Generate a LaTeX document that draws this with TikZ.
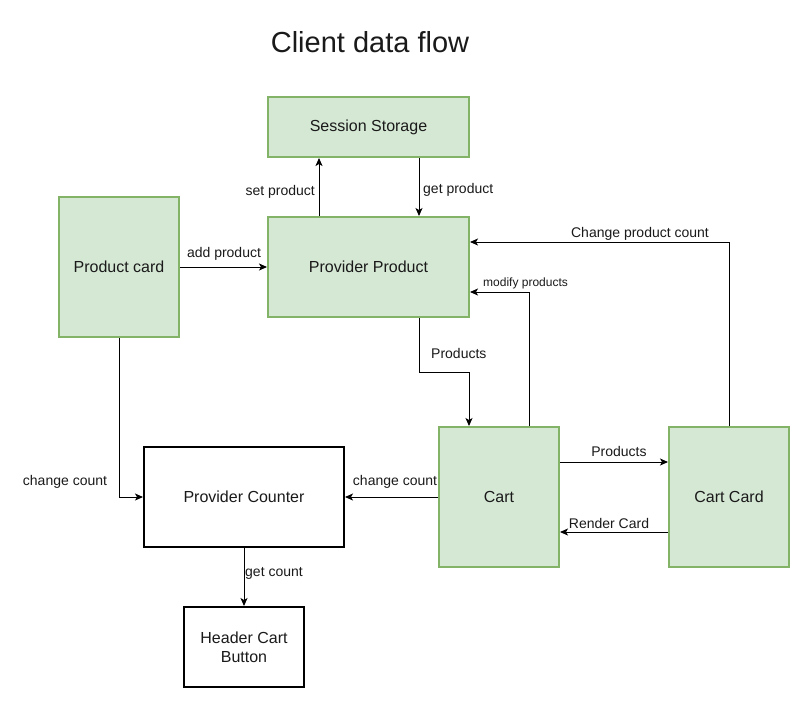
\documentclass[tikz,border=0pt]{standalone}
\usepackage{fontspec}
\setmainfont{Liberation Sans}
\usetikzlibrary{arrows.meta}
\definecolor{gfill}{HTML}{D5E8D4}
\definecolor{gline}{HTML}{82B366}
\definecolor{txt}{HTML}{1A1A1A}
\begin{document}
\begin{tikzpicture}[x=1pt,y=-1pt,
  gbox/.style={draw=gline,fill=gfill,line width=2pt,inner sep=0pt,align=center,font=\fontsize{16}{19}\selectfont,text=txt},
  kbox/.style={draw=black,fill=white,line width=2pt,inner sep=0pt,align=center,font=\fontsize{16}{19}\selectfont,text=txt},
  arr/.style={draw=black,line width=1pt,-{Stealth[length=8pt,width=7pt,inset=2pt]}},
  lbl/.style={inner sep=0pt,yshift=-1.5pt,font=\fontsize{14}{16}\selectfont,text=txt},
  slbl/.style={inner sep=0pt,yshift=-1pt,font=\fontsize{12}{14}\selectfont,text=txt}]
\useasboundingbox (0,0) rectangle (802,716);
\fill[white] (0,0) rectangle (802,716);
% title
\node[inner sep=0pt,font=\fontsize{29}{34}\selectfont,text=txt] (title) at (370,42) {Client data flow};
% boxes
\node[gbox,minimum width=201pt,minimum height=60pt] (ss) at (368.5,127) {Session Storage};
\node[gbox,minimum width=201pt,minimum height=100pt] (pp) at (368.5,267) {Provider Product};
\node[gbox,minimum width=120pt,minimum height=140pt] (pc) at (119,267) {Product card};
\node[kbox,minimum width=200pt,minimum height=100pt] (cnt) at (244,497) {Provider Counter};
\node[gbox,minimum width=120pt,minimum height=140pt] (cart) at (499,497) {Cart};
\node[gbox,minimum width=120pt,minimum height=140pt] (cc) at (729,497) {Cart Card};
\node[kbox,minimum width=120pt,minimum height=80pt] (hcb) at (244,647) {Header Cart\\Button};
% helper coordinates
\coordinate (c319) at (319,0);
\coordinate (c419) at (419,0);
\coordinate (c469) at (469,0);
\coordinate (c529) at (529,0);
\coordinate (r242) at (0,242);
\coordinate (r292) at (0,292);
\coordinate (r372) at (0,372);
\coordinate (r462) at (0,462);
\coordinate (r532) at (0,532);
% connectors
\draw[arr] (pp.north -| c319) -- (ss.south -| c319);
\draw[arr] (ss.south -| c419) -- (pp.north -| c419);
\draw[arr] (pc.east) -- (pp.west);
\draw[arr] (cc.north) |- (pp.east |- r242);
\draw[arr] (cart.north -| c529) |- (pp.east |- r292);
\draw[arr] (pp.south -| c419) -- (c419 |- r372) -- (c469 |- r372) -- (cart.north -| c469);
\draw[arr] (cart.east |- r462) -- (cc.west |- r462);
\draw[arr] (cc.west |- r532) -- (cart.east |- r532);
\draw[arr] (cart.west) -- (cnt.east);
\draw[arr] (pc.south) |- (cnt.west);
\draw[arr] (cnt.south) -- (hcb.north);
% labels
\node[lbl,anchor=east] (l1) at (315,190) {set product};
\node[lbl,anchor=west] (l2) at (423,188) {get product};
\node[lbl] (l3) at (224,252) {add product};
\node[lbl] (l4) at (640,232) {Change product count};
\node[slbl,anchor=west] (l5) at (483,282) {modify products};
\node[lbl,anchor=west] (l6) at (431,352) {Products};
\node[lbl] (l7) at (619,450) {Products};
\node[lbl] (l8) at (609,522) {Render Card};
\node[lbl] (l9) at (395,480) {change count};
\node[lbl] (l10) at (65,480) {change count};
\node[lbl,anchor=west] (l11) at (245,572) {get count};
\end{tikzpicture}
\end{document}
